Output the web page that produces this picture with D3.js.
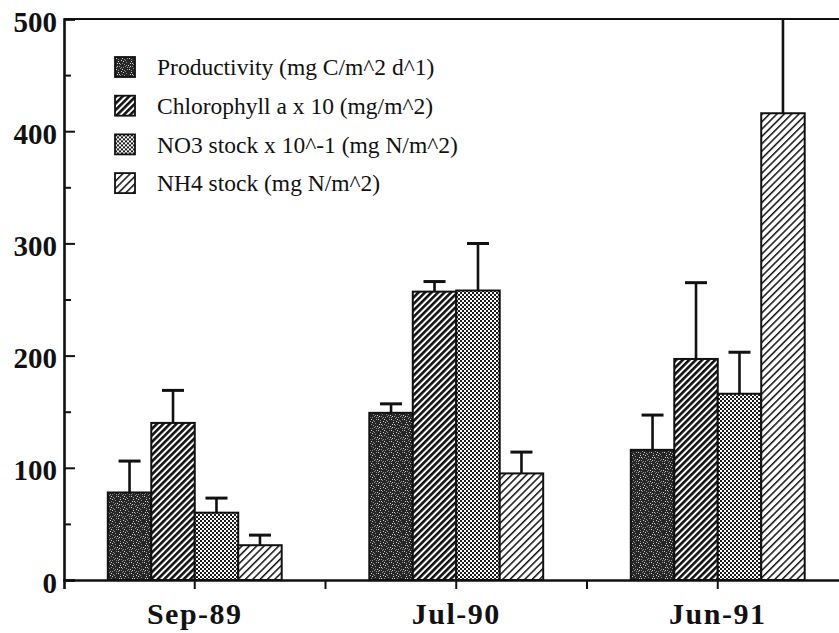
<!DOCTYPE html>
<html>
<head>
<meta charset="utf-8">
<script src="https://cdn.jsdelivr.net/npm/d3@7/dist/d3.min.js"></script>
<style>
  html, body { margin: 0; padding: 0; background: #fff; }
  svg { display: block; }
</style>
</head>
<body>
<svg id="chart" width="839" height="633"></svg>
<script>
// Sampling dates
const categories = ["Sep-89", "Jul-90", "Jun-91"];

// Series names (legend text)
const seriesNames = [
  "Productivity (mg C/m^2 d^1)",
  "Chlorophyll a x 10 (mg/m^2)",
  "NO3 stock x 10^-1 (mg N/m^2)",
  "NH4 stock (mg N/m^2)"
];

// Mean values per date
const productivity = [78, 149, 116];
const chlorophyll  = [140, 257, 197];
const no3Stock     = [60, 258, 166];
const nh4Stock     = [31, 95, 416];

// Upper error (added on top of the mean)
const productivityErr = [28, 8, 31];
const chlorophyllErr  = [29, 9, 68];
const no3StockErr     = [13, 42, 37];
const nh4StockErr     = [9, 19, 110];

// Y tick values (labels only on hundreds)
const yTicks = [0, 50, 100, 150, 200, 250, 300, 350, 400, 450, 500];

const seriesValues = [productivity, chlorophyll, no3Stock, nh4Stock];
const seriesErrors = [productivityErr, chlorophyllErr, no3StockErr, nh4StockErr];
const fillIds = ["pat-prod", "pat-chl", "pat-no3", "pat-nh4"];

const svg = d3.select("#chart");
const plotLeft = 64, plotTop = 19, plotBottom = 580, plotRight = 848.5;

const x = d3.scaleBand().domain(categories).range([plotLeft, plotRight])
  .paddingInner(0.335).paddingOuter(0.1675);
const xs = d3.scaleBand().domain(d3.range(seriesNames.length)).range([0, x.bandwidth()]);
const y = d3.scaleLinear().domain([0, 500]).range([plotBottom, plotTop]);

// ---- fill patterns ----
const defs = svg.append("defs");

// dark stipple
const pProd = defs.append("pattern").attr("id", "pat-prod")
  .attr("patternUnits", "userSpaceOnUse").attr("width", 13).attr("height", 11);
pProd.append("rect").attr("width", 13).attr("height", 11).attr("fill", "#262626");
const specks = [[1,1],[5,0],[9,2],[3,4],[11,5],[7,6],[0,8],[4,9],[10,9],[6,3],[12,1],[8,10],
  [2,6],[5,7],[11,8],[8,4],[1,10],[3,2],[7,1],[12,10],[9,7],[2,9],[6,10],[10,3],[4,6]];
specks.forEach(([sx, sy], i) => {
  pProd.append("rect").attr("x", sx).attr("y", sy).attr("width", 1).attr("height", 1)
    .attr("fill", i % 3 === 0 ? "#d0d0d0" : "#8c8c8c");
});

// bold diagonal stripes
const pChl = defs.append("pattern").attr("id", "pat-chl")
  .attr("patternUnits", "userSpaceOnUse").attr("width", 4.6).attr("height", 10)
  .attr("patternTransform", "rotate(45)");
pChl.append("rect").attr("width", 4.6).attr("height", 10).attr("fill", "#fff");
pChl.append("rect").attr("width", 2.6).attr("height", 10).attr("fill", "#111");

// fine checker
const pNo3 = defs.append("pattern").attr("id", "pat-no3")
  .attr("patternUnits", "userSpaceOnUse").attr("width", 4).attr("height", 4);
pNo3.append("rect").attr("width", 4).attr("height", 4).attr("fill", "#fff");
pNo3.append("rect").attr("x", 0).attr("y", 0).attr("width", 2).attr("height", 2).attr("fill", "#1a1a1a");
pNo3.append("rect").attr("x", 2).attr("y", 2).attr("width", 2).attr("height", 2).attr("fill", "#1a1a1a");

// thin diagonal hatch
const pNh4 = defs.append("pattern").attr("id", "pat-nh4")
  .attr("patternUnits", "userSpaceOnUse").attr("width", 5.2).attr("height", 10)
  .attr("patternTransform", "rotate(45)");
pNh4.append("rect").attr("width", 5.2).attr("height", 10).attr("fill", "#fff");
pNh4.append("rect").attr("width", 1.5).attr("height", 10).attr("fill", "#111");

defs.append("clipPath").attr("id", "plot-clip")
  .append("rect").attr("x", plotLeft).attr("y", plotTop)
  .attr("width", plotRight - plotLeft).attr("height", plotBottom - plotTop);

// ---- frame top line ----
svg.append("line").attr("x1", plotLeft).attr("x2", plotRight).attr("y1", plotTop).attr("y2", plotTop)
  .attr("stroke", "#111").attr("stroke-width", 2.2);

// ---- bars & error bars ----
const rows = categories.map((c, ci) => seriesValues.map((vals, si) => ({
  cat: c, si, value: vals[ci], err: seriesErrors[si][ci]
}))).flat();

const plot = svg.append("g").attr("clip-path", "url(#plot-clip)");
const cx = d => x(d.cat) + xs(d.si) + xs.bandwidth() / 2;

const capW = 22;
plot.selectAll("line.err").data(rows).join("line").attr("class", "err")
  .attr("x1", cx).attr("x2", cx)
  .attr("y1", d => y(d.value))
  .attr("y2", d => y(d.value + d.err))
  .attr("stroke", "#111").attr("stroke-width", 2.6);
plot.selectAll("line.cap").data(rows).join("line").attr("class", "cap")
  .attr("x1", d => cx(d) - capW / 2)
  .attr("x2", d => cx(d) + capW / 2)
  .attr("y1", d => y(d.value + d.err))
  .attr("y2", d => y(d.value + d.err))
  .attr("stroke", "#111").attr("stroke-width", 3);

plot.selectAll("rect.bar").data(rows).join("rect").attr("class", "bar")
  .attr("x", d => x(d.cat) + xs(d.si))
  .attr("y", d => y(d.value))
  .attr("width", xs.bandwidth())
  .attr("height", d => y(0) - y(d.value))
  .attr("fill", d => `url(#${fillIds[d.si]})`)
  .attr("stroke", "#111").attr("stroke-width", 2);

// ---- y axis ----
const yAxis = d3.axisLeft(y).tickValues(yTicks).tickSizeOuter(0).tickSize(-11).tickPadding(7)
  .tickFormat(v => v % 100 === 0 ? String(v) : "");
const gy = svg.append("g").attr("transform", `translate(${plotLeft},0)`).call(yAxis);
gy.select(".domain").attr("stroke", "#111").attr("stroke-width", 2.6);
gy.selectAll(".tick line").attr("stroke", "#111").attr("stroke-width", 2)
  .attr("x2", v => v % 100 === 0 ? 11 : 7);
gy.selectAll(".tick text")
  .attr("font-family", "'Liberation Serif', 'Times New Roman', serif")
  .attr("font-weight", "bold").attr("font-size", 29).attr("fill", "#111")
  .attr("dy", "0.42em");

// ---- x axis ----
const xAxis = d3.axisBottom(x).tickSizeOuter(0).tickSize(9).tickPadding(14);
const gx = svg.append("g").attr("transform", `translate(0,${plotBottom})`).call(xAxis);
gx.select(".domain").attr("stroke", "#111").attr("stroke-width", 2.6);
gx.selectAll(".tick line").attr("stroke", "#111").attr("stroke-width", 2);
gx.selectAll(".tick text")
  .attr("font-family", "'Liberation Serif', 'Times New Roman', serif")
  .attr("font-weight", "bold").attr("font-size", 30).attr("fill", "#111")
  .attr("letter-spacing", 1.5).attr("dy", "0.71em");

// midpoint ticks between dates
const mids = categories.slice(0, -1).map(c => x(c) + x.bandwidth() / 2 + x.step() / 2);
gx.selectAll("line.mid").data(mids).join("line").attr("class", "mid")
  .attr("x1", d => d).attr("x2", d => d).attr("y1", 0).attr("y2", 9)
  .attr("stroke", "#111").attr("stroke-width", 2);

// ---- legend ----
const legend = svg.append("g").attr("transform", "translate(115,57)");
const lg = legend.selectAll("g").data(seriesNames).join("g")
  .attr("transform", (d, i) => `translate(0,${i * 38.7})`);
lg.append("rect").attr("width", 20).attr("height", 20)
  .attr("fill", (d, i) => `url(#${fillIds[i]})`)
  .attr("stroke", "#111").attr("stroke-width", 1.8);
lg.append("text").attr("x", 42).attr("y", 10).attr("dy", "0.35em")
  .attr("font-family", "'Liberation Serif', 'Times New Roman', serif")
  .attr("font-size", 23.5).attr("fill", "#111")
  .text(d => d);
</script>
</body>
</html>
